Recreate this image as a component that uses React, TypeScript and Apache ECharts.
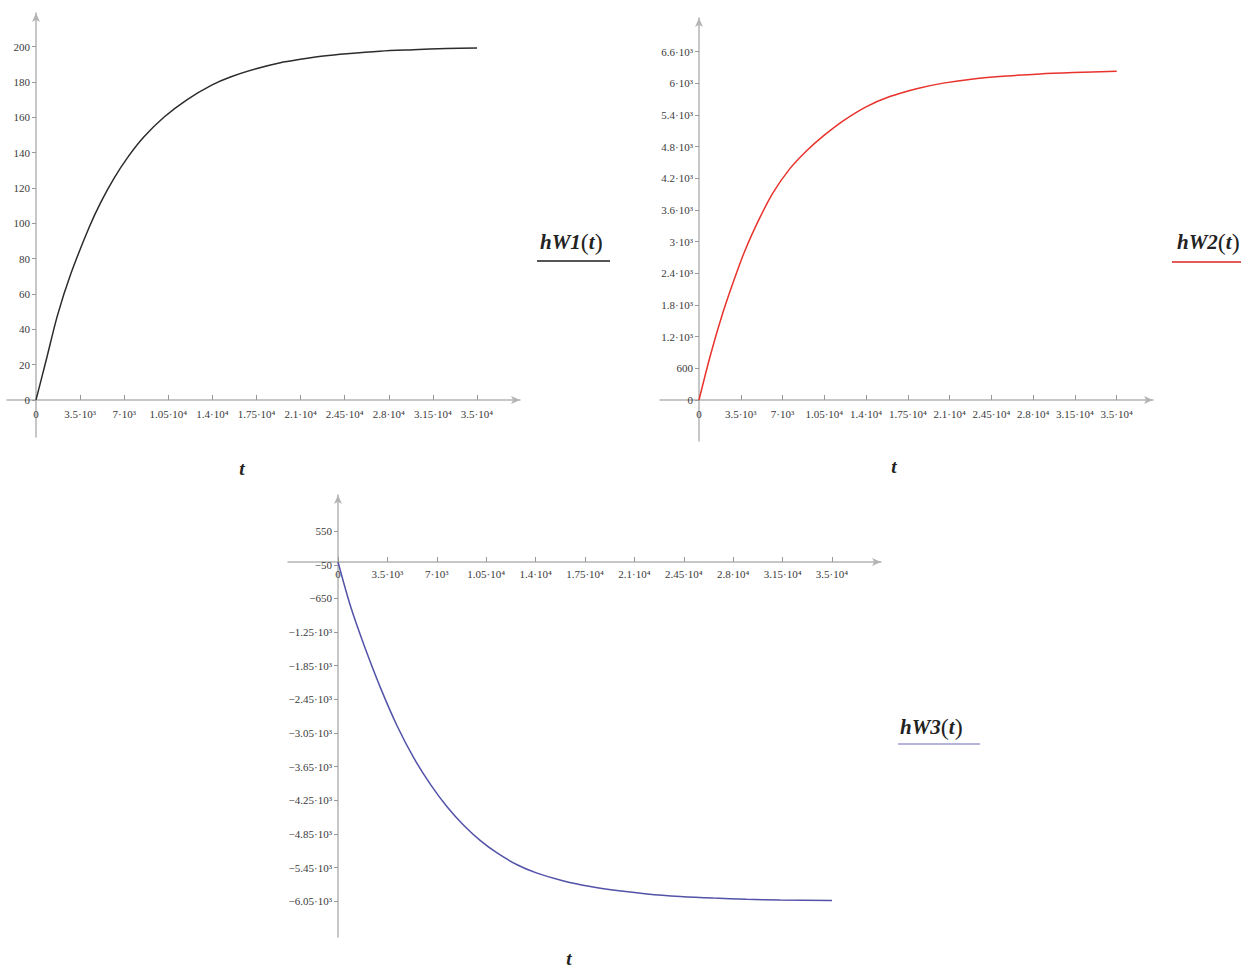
import React, { useEffect, useRef } from "react";
import * as echarts from "echarts";

// ---- tick values and labels ----
const xTickValues = [0, 3500, 7000, 10500, 14000, 17500, 21000, 24500, 28000, 31500, 35000];
const xTickLabels = ["0", "3.5·10³", "7·10³", "1.05·10⁴", "1.4·10⁴", "1.75·10⁴", "2.1·10⁴", "2.45·10⁴", "2.8·10⁴", "3.15·10⁴", "3.5·10⁴"];

const y1TickValues = [0, 20, 40, 60, 80, 100, 120, 140, 160, 180, 200];
const y1TickLabels = ["0", "20", "40", "60", "80", "100", "120", "140", "160", "180", "200"];

const y2TickValues = [0, 600, 1200, 1800, 2400, 3000, 3600, 4200, 4800, 5400, 6000, 6600];
const y2TickLabels = ["0", "600", "1.2·10³", "1.8·10³", "2.4·10³", "3·10³", "3.6·10³", "4.2·10³", "4.8·10³", "5.4·10³", "6·10³", "6.6·10³"];

const y3TickValues = [550, -50, -650, -1250, -1850, -2450, -3050, -3650, -4250, -4850, -5450, -6050];
const y3TickLabels = ["550", "−50", "−650", "−1.25·10³", "−1.85·10³", "−2.45·10³", "−3.05·10³", "−3.65·10³", "−4.25·10³", "−4.85·10³", "−5.45·10³", "−6.05·10³"];

// ---- series values ----
const t1 = [0, 790, 1710, 2770, 4220, 5140, 6200, 7250, 8570, 10150, 12000, 13980, 15430, 17540, 19390, 20970, 22820, 24660, 27300, 29940, 32570, 35000];
const w1 = [0, 22, 48, 71.5, 97.7, 111.8, 125.5, 137, 148.9, 160, 170, 178.3, 182.8, 187.6, 190.9, 192.8, 194.7, 196.0, 197.4, 198.2, 198.9, 199.2];

const t2 = [0, 900, 1870, 2850, 3830, 5090, 6210, 7600, 9000, 10400, 12080, 14040, 15990, 18230, 20470, 22980, 25780, 28580, 31370, 35000];
const w2 = [0, 800, 1560, 2220, 2820, 3450, 3930, 4380, 4720, 5000, 5290, 5560, 5750, 5900, 6005, 6085, 6140, 6180, 6205, 6230];

const t3 = [0, 900, 1840, 3020, 4200, 5380, 6560, 7740, 8920, 10090, 11270, 12690, 14100, 15990, 17880, 19760, 21890, 24250, 26600, 28960, 31320, 35000];
const w3 = [0, -800, -1480, -2250, -2930, -3500, -3970, -4370, -4700, -4970, -5190, -5400, -5550, -5690, -5790, -5860, -5920, -5965, -5995, -6015, -6030, -6040];

const LABEL_FONT = '"Liberation Serif", "DejaVu Serif", serif';
const AXIS_COLOR = "#b4b4b4";

// grid boxes: [left, top, width, height]
const GRIDS = [
  [7, 13, 513, 424],
  [660, 18, 493, 423],
  [288, 495, 593, 442],
];
// axis ranges: [xmin, xmax, ymin, ymax]
const RANGES = [
  [-2302, 38413, -21, 219],
  [-3268, 38042, -777, 7239],
  [-3543, 38472, -6689, 1195],
];

function pairs(xs: number[], ys: number[]) {
  return xs.map((x, i) => [x, ys[i]]);
}

function lookup(vals: number[], labels: string[]) {
  return (v: number) => {
    const i = vals.findIndex((u) => Math.abs(u - v) < 1e-6);
    return i >= 0 ? labels[i] : "";
  };
}

function xAxisOpt(g: number, margin: number) {
  const [, , , h] = GRIDS[g];
  const [xmin, xmax, ymin, ymax] = RANGES[g];
  const offset = -((0 - ymin) / (ymax - ymin)) * h;
  return {
    type: "value",
    gridIndex: g,
    min: xmin,
    max: xmax,
    position: "bottom",
    offset,
    axisLine: {
      show: true,
      onZero: false,
      symbol: ["none", "arrow"],
      symbolSize: [6, 9],
      lineStyle: { color: AXIS_COLOR, width: 1.5 },
    },
    axisTick: {
      show: true,
      inside: true,
      length: 5,
      customValues: xTickValues,
      lineStyle: { color: "#999", width: 1 },
    },
    axisLabel: {
      show: true,
      customValues: xTickValues,
      formatter: lookup(xTickValues, xTickLabels),
      margin,
      color: "#3a3a3a",
      fontFamily: LABEL_FONT,
      fontSize: 11,
    },
    splitLine: { show: false },
  };
}

function yAxisOpt(g: number, vals: number[], labels: string[]) {
  const [, , w] = GRIDS[g];
  const [xmin, xmax, ymin, ymax] = RANGES[g];
  const offset = -((0 - xmin) / (xmax - xmin)) * w;
  return {
    type: "value",
    gridIndex: g,
    min: ymin,
    max: ymax,
    position: "left",
    offset,
    axisLine: {
      show: true,
      onZero: false,
      symbol: ["none", "arrow"],
      symbolSize: [6, 9],
      lineStyle: { color: AXIS_COLOR, width: 1.5 },
    },
    axisTick: {
      show: true,
      inside: false,
      length: 4,
      customValues: vals,
      lineStyle: { color: "#999", width: 1 },
    },
    axisLabel: {
      show: true,
      customValues: vals,
      formatter: lookup(vals, labels),
      margin: 6,
      color: "#3a3a3a",
      fontFamily: LABEL_FONT,
      fontSize: 11,
    },
    splitLine: { show: false },
  };
}

function legendText(name: string, x: number, y: number) {
  return {
    type: "text",
    x,
    y,
    style: {
      text: `{i|hW${name}}{p|(}{i|t}{p|)}`,
      align: "left",
      verticalAlign: "middle",
      rich: {
        i: { fontFamily: LABEL_FONT, fontStyle: "italic", fontWeight: "bold", fontSize: 21, fill: "#222" },
        p: { fontFamily: LABEL_FONT, fontSize: 24, fill: "#222" },
      },
    },
  };
}

function underline(x1: number, x2: number, y: number, color: string) {
  return {
    type: "line",
    shape: { x1, y1: y, x2, y2: y },
    style: { stroke: color, lineWidth: 2 },
  };
}

function tText(x: number, y: number) {
  return {
    type: "text",
    x,
    y,
    style: {
      text: "t",
      align: "center",
      verticalAlign: "middle",
      font: `italic bold 19px ${LABEL_FONT}`,
      fill: "#222",
    },
  };
}

function lineSeries(g: number, xs: number[], ys: number[], color: string, name: string) {
  return {
    type: "line",
    name,
    xAxisIndex: g,
    yAxisIndex: g,
    data: pairs(xs, ys),
    smooth: 0.3,
    showSymbol: false,
    lineStyle: { color, width: 1.5 },
  };
}

export default function App() {
  const ref = useRef<HTMLDivElement>(null);

  useEffect(() => {
    if (!ref.current) return;
    const chart = echarts.init(ref.current, undefined, { renderer: "svg" });
    chart.setOption({
      animation: false,
      backgroundColor: "#ffffff",
      grid: GRIDS.map(([left, top, width, height]) => ({
        left,
        top,
        width,
        height,
        containLabel: false,
        outerBoundsMode: "none",
      })),
      xAxis: [xAxisOpt(0, 9), xAxisOpt(1, 9), xAxisOpt(2, 7)],
      yAxis: [
        yAxisOpt(0, y1TickValues, y1TickLabels),
        yAxisOpt(1, y2TickValues, y2TickLabels),
        yAxisOpt(2, y3TickValues, y3TickLabels),
      ],
      series: [
        lineSeries(0, t1, w1, "#2c2c2c", "hW1(t)"),
        lineSeries(1, t2, w2, "#e8322c", "hW2(t)"),
        lineSeries(2, t3, w3, "#5252a8", "hW3(t)"),
      ],
      graphic: [
        legendText("1", 540, 242),
        underline(537, 610, 261, "#555555"),
        legendText("2", 1177, 242),
        underline(1172, 1241, 262, "#e25a5a"),
        legendText("3", 900, 727),
        underline(898, 980, 744, "#b4b4dc"),
        tText(242, 468),
        tText(894, 466),
        tText(569, 958),
      ],
    });
    return () => chart.dispose();
  }, []);

  return (
    <div
      ref={ref}
      style={{ position: "absolute", left: 0, top: 0, width: 1241, height: 970 }}
    />
  );
}
